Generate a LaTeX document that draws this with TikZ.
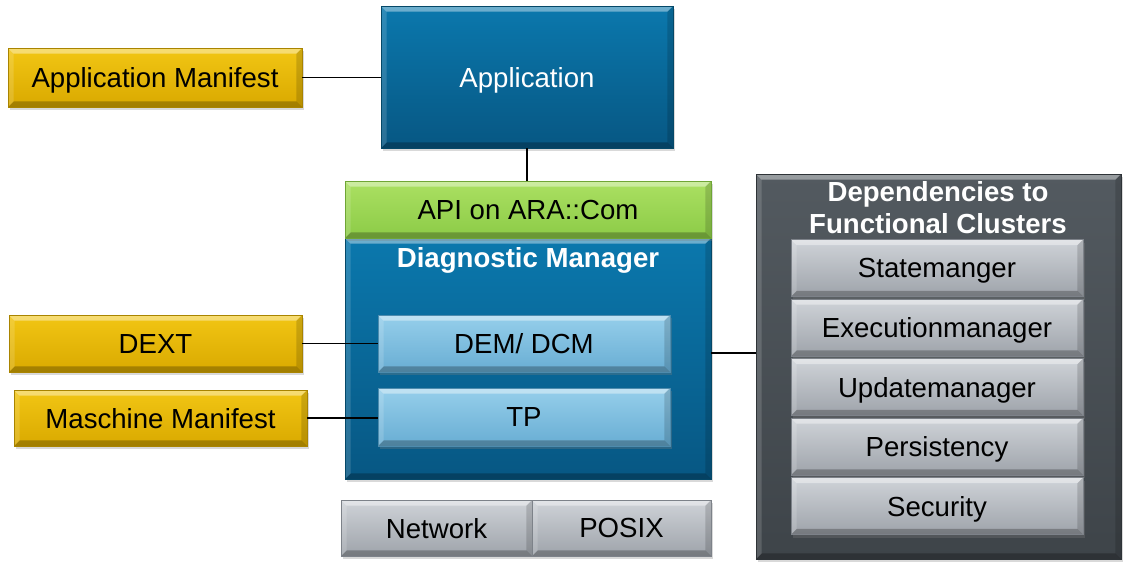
\documentclass[tikz,border=0pt]{standalone}
\usepackage{fontspec}
\setmainfont{Liberation Sans}
\usetikzlibrary{shadows,calc}
\definecolor{goldT}{HTML}{F2C614}
\definecolor{goldB}{HTML}{D9A900}
\definecolor{goldD}{HTML}{A98400}
\definecolor{blueT}{HTML}{0B78AD}
\definecolor{blueB}{HTML}{075783}
\definecolor{blueD}{HTML}{054868}
\definecolor{greenT}{HTML}{ABE062}
\definecolor{greenB}{HTML}{8CCB47}
\definecolor{greenD}{HTML}{6FA536}
\definecolor{lblueT}{HTML}{96CFEB}
\definecolor{lblueB}{HTML}{68ADD3}
\definecolor{lblueD}{HTML}{4E8CAE}
\definecolor{grayT}{HTML}{CFD3D8}
\definecolor{grayB}{HTML}{9EA3AA}
\definecolor{grayD}{HTML}{7D8289}
\definecolor{darkT}{HTML}{535A60}
\definecolor{darkB}{HTML}{3E4449}
\definecolor{darkD}{HTML}{2E3337}
\newcommand{\bvsz}{2.8pt}
\tikzset{
  bevel/.style={path picture={
    \path (path picture bounding box.north west) coordinate (pNW)
          (path picture bounding box.south east) coordinate (pSE);
    \fill[white,opacity=.4] (pNW) -- (pNW -| pSE) -- ([shift={(-\bvsz,-\bvsz)}]pNW -| pSE) -- ([shift={(\bvsz,-\bvsz)}]pNW) -- cycle;
    \fill[black,opacity=.25] (pSE) -- (pSE -| pNW) -- ([shift={(\bvsz,\bvsz)}]pSE -| pNW) -- ([shift={(-\bvsz,\bvsz)}]pSE) -- cycle;
    \fill[white,opacity=.15] (pNW) -- ([shift={(\bvsz,-\bvsz)}]pNW) -- ([shift={(\bvsz,\bvsz)}]pSE -| pNW) -- (pSE -| pNW) -- cycle;
    \fill[black,opacity=.15] (pSE) -- ([shift={(-\bvsz,\bvsz)}]pSE) -- ([shift={(-\bvsz,-\bvsz)}]pNW -| pSE) -- (pNW -| pSE) -- cycle;
  }},
  box/.style={rectangle, inner sep=0pt, align=center, bevel, text depth=0pt,
    font=\fontsize{13.8}{16}\selectfont,
    drop shadow={shadow xshift=0.8pt, shadow yshift=-1.6pt, opacity=0.3}},
  goldbox/.style={box, top color=goldT, bottom color=goldB, draw=goldD, line width=0.3pt},
  bluebox/.style={box, top color=blueT, bottom color=blueB, draw=blueD, line width=0.3pt, text=white},
  greenbox/.style={box, top color=greenT, bottom color=greenB, draw=greenD, line width=0.3pt},
  lbluebox/.style={box, top color=lblueT, bottom color=lblueB, draw=lblueD, line width=0.3pt},
  graybox/.style={box, top color=grayT, bottom color=grayB, draw=grayD, line width=0.3pt},
  darkbox/.style={box, top color=darkT, bottom color=darkB, draw=darkD, line width=0.3pt},
  title/.style={font=\fontsize{13.8}{16}\selectfont\bfseries, text=white, inner sep=0pt, text depth=0pt},
  conn/.style={draw=black, line width=0.75pt},
}
\begin{document}
\begin{tikzpicture}[x=0.5pt,y=-0.5pt]
\useasboundingbox (0,0) rectangle (1130,575);
% left gold boxes
\node[goldbox, minimum width=147pt, minimum height=29.5pt] (appman) at (155,77.5) {Application Manifest};
\node[goldbox, minimum width=146.5pt, minimum height=28.5pt] (dext) at (155.5,343.5) {DEXT};
\node[goldbox, minimum width=146.5pt, minimum height=28pt] (mm) at (160.5,418) {Maschine Manifest};
% application
\node[bluebox, minimum width=146pt, minimum height=71pt] (app) at (527,77) {Application};
% diagnostic manager
\node[bluebox, minimum width=183pt, minimum height=120.5pt] (diag) at (528,358.5) {};
\node[title] (diagt) at (528,257) {Diagnostic Manager};
\node[greenbox, minimum width=183pt, minimum height=28.5pt] (api) at (528,209.5) {API on ARA::Com};
\node[lbluebox, minimum width=146pt, minimum height=28.5pt] (dem) at (524,343.5) {DEM/ DCM};
\node[lbluebox, minimum width=146pt, minimum height=29pt] (tp) at (524,417) {TP};
% network / posix
\node[graybox, minimum width=95.5pt, minimum height=28pt] (net) at (436.5,528) {Network};
\node[graybox, minimum width=89.5pt, minimum height=28pt] (posix) at (621.5,528) {POSIX};
% dependencies
\node[darkbox, minimum width=182.5pt, minimum height=192.5pt] (dep) at (938.5,366.5) {};
\node[title] (dept1) at (938,191) {Dependencies to};
\node[title] (dept2) at (938,223) {Functional Clusters};
\node[graybox, minimum width=146pt, minimum height=28.5pt] (sm) at (937,268) {Statemanger};
\node[graybox, minimum width=146pt, minimum height=28.5pt] (em) at (937,327.5) {Executionmanager};
\node[graybox, minimum width=146pt, minimum height=28.5pt] (um) at (937,387) {Updatemanager};
\node[graybox, minimum width=146pt, minimum height=28.5pt] (pe) at (937,446.5) {Persistency};
\node[graybox, minimum width=146pt, minimum height=28.5pt] (se) at (937,506) {Security};
% connectors
\coordinate (lvl) at (0,353);
\draw[conn] (appman.east) -- (appman.east -| app.west);
\draw[conn] (app.south) -- (app.south |- api.north);
\draw[conn] (dext.east) -- (dext.east -| dem.west);
\draw[conn] (mm.east) -- (mm.east -| tp.west);
\draw[conn] (diag.east |- lvl) -- (dep.west |- lvl);
\end{tikzpicture}
\end{document}
